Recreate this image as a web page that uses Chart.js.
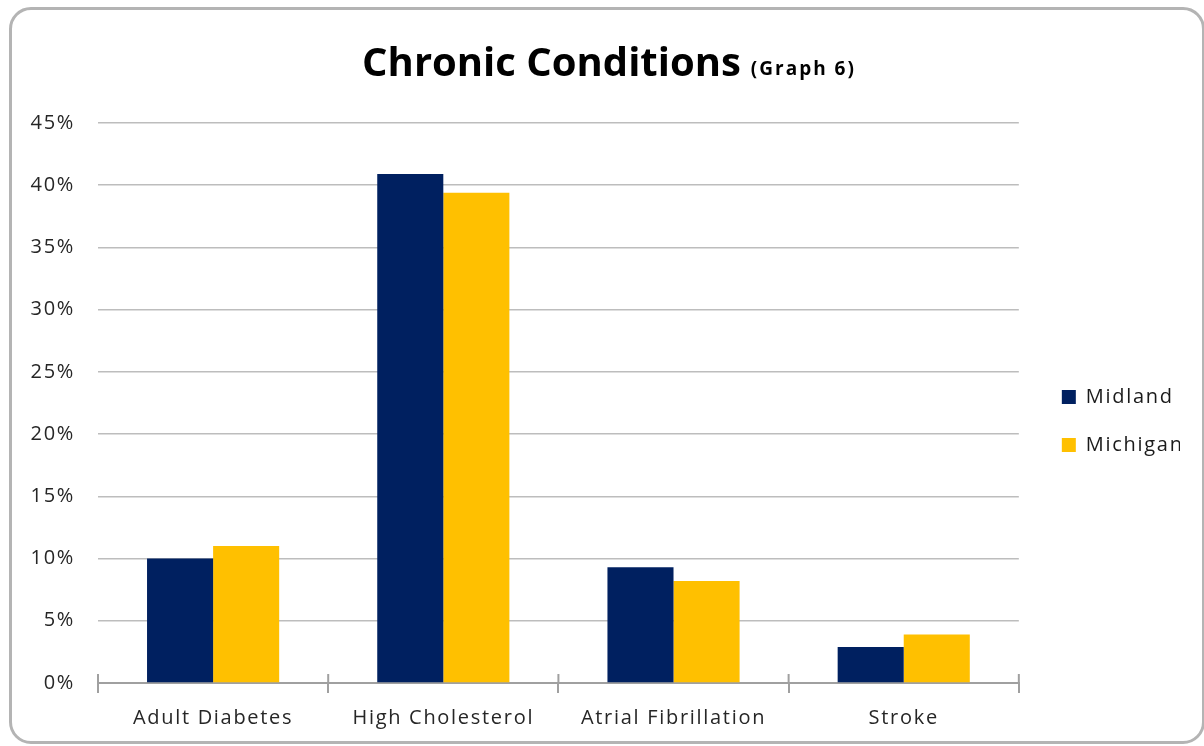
<!DOCTYPE html>
<html>
<head>
<meta charset="utf-8">
<script src="https://cdn.jsdelivr.net/npm/chart.js@4"></script>
<style>
  html, body { margin: 0; padding: 0; background: #fff; }
  #frame { position: absolute; left: 9px; top: 7px; width: 1190px; height: 731px;
           border: 3px solid #b4b4b4; border-radius: 22px; }
  #c { position: absolute; left: 0; top: 0; }
</style>
</head>
<body>
<div id="frame"></div>
<canvas id="c" width="1204" height="746"></canvas>
<script>
const categories = ["Adult Diabetes", "High Cholesterol", "Atrial Fibrillation", "Stroke"];
const midland = [10.0, 40.9, 9.3, 2.9];
const michigan = [11.0, 39.4, 8.2, 3.9];
const seriesNames = ["Midland", "Michigan"];
const titleMain = "Chronic Conditions";
const titleSmall = "(Graph 6)";

const FONT = "'Open Sans', 'DejaVu Sans', sans-serif";

const spacingPlugin = {
  id: 'spacingPlugin',
  beforeDraw(chart) { chart.ctx.letterSpacing = '1.7px'; }
};

const titlePlugin = {
  id: 'titlePlugin',
  afterDraw(chart) {
    const ctx = chart.ctx;
    ctx.save();
    ctx.fillStyle = '#000';
    ctx.textBaseline = 'alphabetic';
    ctx.textAlign = 'left';
    ctx.letterSpacing = '0px';
    ctx.font = "bold 40px " + FONT;
    const w1 = ctx.measureText(titleMain).width;
    ctx.letterSpacing = '2px';
    ctx.font = "bold 19px " + FONT;
    const w2 = ctx.measureText(titleSmall).width;
    const gap = 10;
    const total = w1 + gap + w2;
    const x0 = chart.width / 2 + 7 - total / 2;
    ctx.letterSpacing = '0px';
    ctx.font = "bold 40px " + FONT;
    ctx.fillText(titleMain, x0, 76);
    ctx.letterSpacing = '2px';
    ctx.font = "bold 19px " + FONT;
    ctx.fillText(titleSmall, x0 + w1 + gap, 75);
    ctx.restore();
  }
};

const tickPlugin = {
  id: 'tickPlugin',
  afterDraw(chart) {
    const xs = chart.scales.x;
    const ctx = chart.ctx;
    const n = categories.length;
    const y = chart.chartArea.bottom;
    ctx.save();
    ctx.strokeStyle = '#a0a0a0';
    ctx.lineWidth = 2;
    for (let i = 0; i <= n; i++) {
      let x;
      if (i === 0) x = chart.chartArea.left;
      else if (i === n) x = chart.chartArea.right;
      else x = (xs.getPixelForTick(i - 1) + xs.getPixelForTick(i)) / 2;
      ctx.beginPath();
      ctx.moveTo(x, y - 9);
      ctx.lineTo(x, y);
      ctx.stroke();
    }
    ctx.restore();
  }
};

new Chart(document.getElementById('c'), {
  type: 'bar',
  data: {
    labels: categories,
    datasets: [
      { label: seriesNames[0], data: midland, backgroundColor: '#002060', borderWidth: 0,
        categoryPercentage: 0.574, barPercentage: 1.0 },
      { label: seriesNames[1], data: michigan, backgroundColor: '#FFC000', borderWidth: 0,
        categoryPercentage: 0.574, barPercentage: 1.0 }
    ]
  },
  options: {
    responsive: false,
    animation: false,
    layout: { padding: { left: 10, top: 123, right: 24, bottom: 11 } },
    plugins: {
      title: { display: false },
      tooltip: { enabled: false },
      legend: {
        position: 'right',
        align: 'center',
        fullSize: false,
        title: { display: true, text: '', padding: 0, font: { size: 30, lineHeight: 1.2 } },
        labels: {
          boxWidth: 14, boxHeight: 14, padding: 28,
          color: '#1a1a1a',
          font: { family: FONT, size: 20 }
        }
      }
    },
    scales: {
      x: {
        grid: { offset: true, drawOnChartArea: false, drawTicks: true, tickLength: 10,
                color: '#a0a0a0', lineWidth: 2 },
        border: { color: '#a0a0a0', width: 2 },
        ticks: { color: '#262626', padding: 13, font: { family: FONT, size: 20 } },
        afterFit: s => { s.height = 52; }
      },
      y: {
        min: 0, max: 45,
        grid: { color: '#bdbdbd', lineWidth: 1.5, drawTicks: false },
        border: { display: false },
        ticks: { stepSize: 5, padding: 23, color: '#262626',
                 font: { family: FONT, size: 20 },
                 callback: v => v + '%' },
        afterFit: s => { s.width = 88; }
      },
      y2: {
        position: 'right',
        display: true,
        grid: { display: false },
        border: { display: false },
        ticks: { display: false },
        afterFit: s => { s.width = 15; }
      }
    }
  },
  plugins: [spacingPlugin, titlePlugin, tickPlugin]
});
</script>
</body>
</html>
